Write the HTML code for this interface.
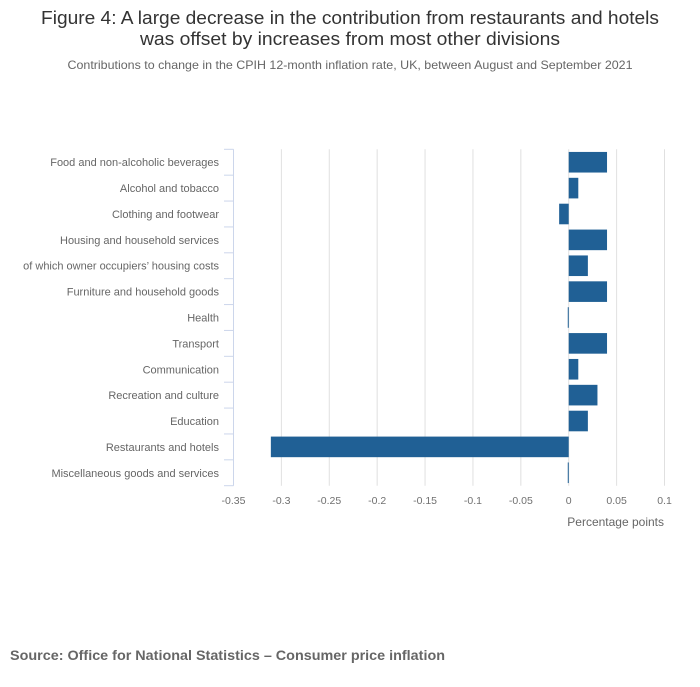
<!DOCTYPE html>
<html><head><meta charset="utf-8"><style>
body{margin:0;background:#fff;font-family:"Liberation Sans",sans-serif;}
</style></head><body>
<svg id="chart" width="700" height="682" xmlns="http://www.w3.org/2000/svg" font-family="Liberation Sans, sans-serif">
<text x="350" y="24" text-anchor="middle" font-size="18" fill="#333" textLength="618" lengthAdjust="spacingAndGlyphs">Figure 4: A large decrease in the contribution from restaurants and hotels</text>
<text x="350" y="45" text-anchor="middle" font-size="18" fill="#333" textLength="420" lengthAdjust="spacingAndGlyphs">was offset by increases from most other divisions</text>
<text x="350" y="69" text-anchor="middle" font-size="12" fill="#666" textLength="565" lengthAdjust="spacingAndGlyphs">Contributions to change in the CPIH 12-month inflation rate, UK, between August and September 2021</text>
<g id="plot"></g>
<text x="664" y="526" text-anchor="end" font-size="12" fill="#666">Percentage points</text>
<text x="10" y="660" font-size="14" font-weight="bold" fill="#666" textLength="435" lengthAdjust="spacingAndGlyphs">Source: Office for National Statistics – Consumer price inflation</text>
</svg>
<script>
const categories=["Food and non-alcoholic beverages","Alcohol and tobacco","Clothing and footwear","Housing and household services","of which owner occupiers’ housing costs","Furniture and household goods","Health","Transport","Communication","Recreation and culture","Education","Restaurants and hotels","Miscellaneous goods and services"];
const values=[0.04,0.01,-0.01,0.04,0.02,0.04,-0.001,0.04,0.01,0.03,0.02,-0.311,-0.001];
const xTicks=[-0.35,-0.3,-0.25,-0.2,-0.15,-0.1,-0.05,0,0.05,0.1];
const xTickLabels=["-0.35","-0.3","-0.25","-0.2","-0.15","-0.1","-0.05","0","0.05","0.1"];
const NS="http://www.w3.org/2000/svg";
const g=document.getElementById('plot');
const x0=233.5,x1=664.5,y0=149.3,y1=485.7;
const xs=v=>x0+(v-(-0.35))/(0.45)*(x1-x0);
const band=(y1-y0)/categories.length;
function mk(t,a){const e=document.createElementNS(NS,t);for(const k in a)e.setAttribute(k,a[k]);g.appendChild(e);return e;}
xTicks.forEach((t,i)=>{
  if(i>0){const l=mk('line',{x1:xs(t),x2:xs(t),y1:y0,y2:y1,stroke:'#e0e0e0','stroke-width':1});
  
  }
  const tx=mk('text',{x:xs(t),y:504,'text-anchor':'middle','font-size':10.5,fill:'#707070'});
  tx.textContent=xTickLabels[i];
  
  
});
const ax=mk('line',{x1:x0,x2:x0,y1:y0,y2:y1,stroke:'#ccd6eb','stroke-width':1});


for(let i=0;i<=categories.length;i++){
  const y=y0+i*band;
  const tk=mk('line',{x1:224,x2:x0,y1:y,y2:y,stroke:'#ccd6eb','stroke-width':1});
  
  
}
categories.forEach((c,i)=>{
  const cy=y0+(i+0.5)*band;
  const t=mk('text',{x:219,y:cy+4,'text-anchor':'end','font-size':11,fill:'#666'});
  t.textContent=c;
  
  
  const v=values[i];
  const a=xs(Math.min(0,v)),b=xs(Math.max(0,v));
  const r=mk('rect',{x:a,y:cy-10.3,width:Math.max(1,b-a),height:20.6,fill:'#206095'});
  
  
});
</script>
</body></html>
